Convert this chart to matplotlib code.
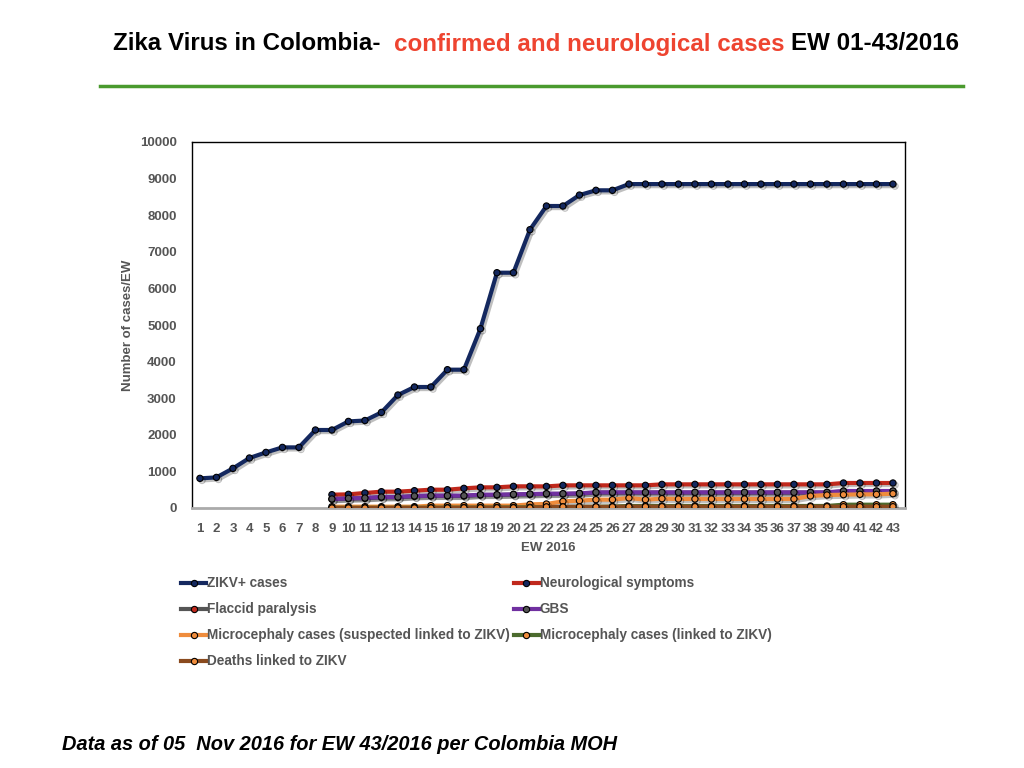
import numpy as np
import matplotlib
matplotlib.use("Agg")
import matplotlib.pyplot as plt
import matplotlib.patheffects as pe
from matplotlib.lines import Line2D

plt.rcParams['font.family'] = ['Liberation Sans', 'DejaVu Sans']

weeks = list(range(1, 44))
weeks_sub = list(range(9, 44))

zikv = [810, 836, 1082, 1366, 1519, 1656, 1656, 2131, 2131, 2366, 2390, 2612,
        3087, 3306, 3306, 3779, 3779, 4899, 6429, 6429, 7604, 8251, 8251, 8550,
        8680, 8680] + [8850] * 17
neuro = [364, 373, 410, 446, 446, 473, 500, 500, 537, 564, 564, 592, 592,
         590] + [619] * 6 + [646] * 11 + [683] * 4
gbs = [246, 264, 273, 300, 300, 328, 337, 337, 337, 364, 364, 373, 382,
       391, 391, 400] + [428] * 15 + [464] * 4
flaccid = [240, 258, 266, 292, 292, 320, 330, 330, 330, 356, 356, 366, 374,
           384, 384, 392] + [420] * 15 + [456] * 4
micro_susp = [36] * 6 + [64] * 6 + [100, 109, 182, 200, 228, 228, 273, 228, 255] \
    + [246] * 8 + [328, 355, 364, 373, 373, 391]
micro_linked = [5, 5, 5, 6, 6, 8, 8, 10, 10, 12, 12, 15,
                18, 20, 25, 30, 35, 40] + [55] * 13 + [90] * 4
deaths = [0] * 8 + [5] * 5 + [30] * 5 + [35] * 17

series = [
    # label, x, y, line colour, marker colour
    ("ZIKV+ cases", weeks, zikv, "#14285f", "#14285f"),
    ("Neurological symptoms", weeks_sub, neuro, "#c0281c", "#14285f"),
    ("Flaccid paralysis", weeks_sub, flaccid, "#555555", "#c0281c"),
    ("GBS", weeks_sub, gbs, "#7030a0", "#555555"),
    ("Microcephaly cases (suspected linked to ZIKV)", weeks_sub, micro_susp, "#ef8c3c", "#ef8c3c"),
    ("Microcephaly cases (linked to ZIKV)", weeks_sub, micro_linked, "#4c6b2e", "#ef8c3c"),
    ("Deaths linked to ZIKV", weeks_sub, deaths, "#8a4a1e", "#ef8c3c"),
]

fig = plt.figure(figsize=(10.24, 7.68), dpi=100)
ax = fig.add_axes([192 / 1024, 1 - 508 / 768, 713 / 1024, 366 / 768])

shadow = [pe.SimpleLineShadow(offset=(1.5, -1.5), alpha=0.25, shadow_color='black'), pe.Normal()]
handles = {}
order_z = {"Flaccid paralysis": 2}
for label, xs, ys, lc, mc in series:
    ax.plot(xs, ys, color=lc, lw=3.0, marker='o', ms=4.5, mfc=mc,
            mec='black', mew=0.8, zorder=order_z.get(label, 3),
            path_effects=shadow, label=label)
    handles[label] = Line2D([], [], color=lc, lw=3.0, marker='o', ms=4.5,
                            mfc=mc, mec='black', mew=0.8)

ax.set_xlim(0.52, 43.73)
ax.set_ylim(0, 10000)
ax.set_yticks(range(0, 10001, 1000))
ax.set_xticks(weeks)
ax.tick_params(length=0, labelsize=9.5, colors='#555555')
ax.tick_params(axis='y', pad=11)
ax.tick_params(axis='x', pad=11)
for t in ax.get_xticklabels() + ax.get_yticklabels():
    t.set_fontweight('bold')
for s in ['left', 'top', 'right']:
    ax.spines[s].set_color('black')
    ax.spines[s].set_linewidth(1.0)
ax.spines['bottom'].set_color('#aaaaaa')
ax.spines['bottom'].set_linewidth(2.0)
ax.set_xlabel("EW 2016", fontsize=9.5, fontweight='bold', color='#555555', labelpad=5)
ax.set_ylabel("Number of cases/EW", fontsize=9.5, fontweight='bold', color='#555555', labelpad=4)

# legend, filled row by row like the original
leg_order = ["ZIKV+ cases", "Flaccid paralysis",
             "Microcephaly cases (suspected linked to ZIKV)", "Deaths linked to ZIKV",
             "Neurological symptoms", "GBS", "Microcephaly cases (linked to ZIKV)"]
fig.legend([handles[k] for k in leg_order], leg_order, ncol=2, frameon=False,
           loc='upper left', bbox_to_anchor=(176 / 1024, 1 - 571 / 768),
           labelcolor='#555555', handlelength=1.8, handletextpad=0.1,
           labelspacing=0.88, columnspacing=0.3, borderaxespad=0,
           prop={'weight': 'bold', 'size': 9.8})

# title in three colours
title_kw = dict(fontsize=17.4, fontweight='bold')
t1 = fig.text(113 / 1024, 1 - 44 / 768, "Zika Virus in Colombia-  ",
              va='center', ha='left', **title_kw)
t2 = ax.annotate("confirmed and neurological cases ", xy=(1, 0), xycoords=t1,
                 va='bottom', ha='left', color='#ee4430', annotation_clip=False,
                 **title_kw)
t3 = ax.annotate("EW 01-43/2016", xy=(1, 0), xycoords=t2, va='bottom', ha='left',
                 annotation_clip=False, **title_kw)

fig.add_artist(Line2D([100 / 1024, 963 / 1024], [1 - 86 / 768, 1 - 86 / 768],
                      color='#4a9a2e', lw=2.5, transform=fig.transFigure))

fig.text(62 / 1024, 1 - 744 / 768, "Data as of 05  Nov 2016 for EW 43/2016 per Colombia MOH",
         fontsize=14.4, fontweight='bold', fontstyle='italic', va='center', ha='left')

fig.savefig("out.png", dpi=100)
